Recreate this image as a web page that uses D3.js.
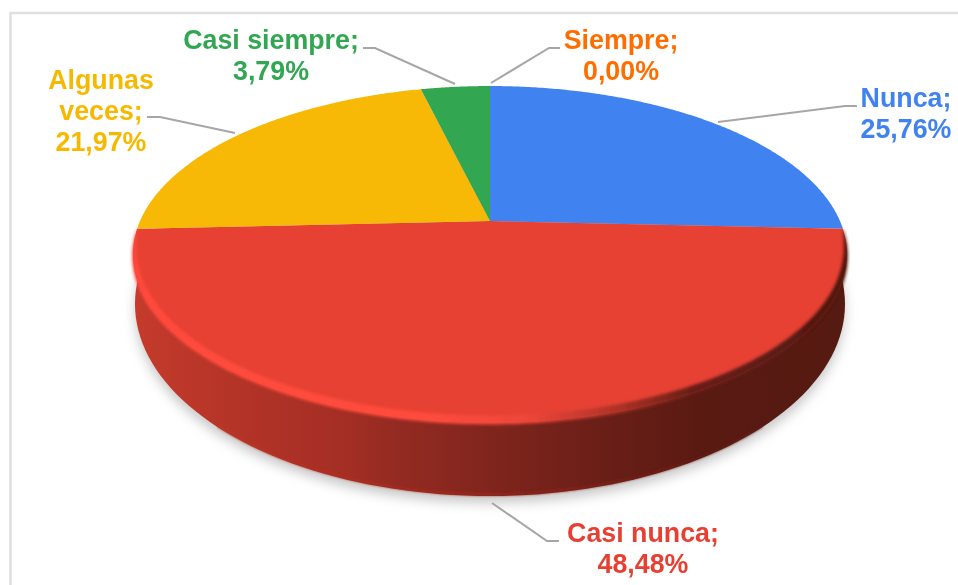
<!DOCTYPE html>
<html><head><meta charset="utf-8">
<style>html,body{margin:0;padding:0;background:#fff;overflow:hidden}svg{display:block}
text{font-family:"Liberation Sans",Arial,sans-serif;font-weight:700;font-size:26.8px;text-anchor:middle}</style>
<script src="https://cdn.jsdelivr.net/npm/d3@7"></script></head>
<body><script>
const categories = ["Nunca","Casi nunca","Algunas veces","Casi siempre","Siempre"];
const values = [25.76,48.48,21.97,3.79,0.00];
const colors = ["#4083f0","#e74133","#f7b906","#33a652","#ff6d01"];
const labelLines = [["Nunca;","25,76%"],["Casi nunca;","48,48%"],["Algunas","veces;","21,97%"],["Casi siempre;","3,79%"],["Siempre;","0,00%"]];
const labelCentres = [[906,98],[643,533],[101,80],[271,40],[621,40]];
const leaders = [
  [[857,106],[845,106],[718,122]],
  [[559,541],[547,541],[492,503]],
  [[147,117],[160,117],[235,133]],
  [[363,48],[375,48],[455,84]],
  [[560,48],[549,48],[491,83]]
];
const W=958,H=585, cx=490, cy=221, a=350, b=161.8, k=0.1988;
const lineH=30.8;

const svg=d3.select("body").append("svg").attr("width",W).attr("height",H);
const defs=svg.append("defs");
const blur=(id,s)=>defs.append("filter").attr("id",id).attr("filterUnits","userSpaceOnUse")
  .attr("x",0).attr("y",0).attr("width",W).attr("height",H)
  .append("feGaussianBlur").attr("stdDeviation",s);
blur("shadow",6); blur("rim",1.7); blur("soft",0.5); blur("edge",0.9);
const grad=(id,stops)=>{const g=defs.append("linearGradient").attr("id",id).attr("gradientUnits","userSpaceOnUse")
  .attr("x1",133).attr("x2",847).attr("y1",0).attr("y2",0);
  stops.forEach(([o,c])=>g.append("stop").attr("offset",o).attr("stop-color",c));};
grad("side",[[0,"#c53b2c"],[0.16,"#b23327"],[0.3,"#a42e24"],[0.36,"#952b22"],[0.5,"#80251d"],[0.65,"#6b1f17"],[0.8,"#591a12"],[1,"#551a11"]]);
grad("rimG",[[0,"#ff4a3c"],[0.4,"#ff4c3d"],[0.55,"#ee463a"],[0.66,"#b8352a"],[0.78,"#6a1f15"],[1,"#4f1710"]]);
grad("baseG",[[0,"#c53b2c"],[0.4,"#a82a20"],[0.6,"#8e2319"],[0.8,"#641c14"],[1,"#551a11"]]);

// frame
svg.append("path").attr("d",d3.line()([[10.5,H],[10.5,13],[W,13]])).attr("fill","none").attr("stroke","#e0e0e0").attr("stroke-width",2.6);

// perspective projection of the unit disc; theta runs clockwise from the top
const proj=(t,r=1)=>{const u=r*Math.sin(t),v=-r*Math.cos(t),d=1-k*v;return [cx+a*u/d,cy+b*v/d];};
const range=(t0,t1,n=180)=>d3.range(n+1).map(i=>t0+(t1-t0)*i/n);
const line=d3.line();

// lower disc used for side wall + shadow
const bcx=490,bcy=304,brx=355,bry=192;
const bottom=t=>[bcx+brx*Math.cos(t),bcy+bry*Math.sin(t)];
const ell=d3.range(0,361,2).map(d=>bottom(d*Math.PI/180));
svg.append("path").attr("d",line(ell)+"Z").attr("transform","translate(0,7)").attr("fill","#c9c9c9").attr("filter","url(#shadow)");

const pie=d3.pie().sort(null).value(d=>d).startAngle(0).endAngle(2*Math.PI)(values);
const red=pie[1];

// side wall
const wall=d3.range(-14,195,2).map(d=>bottom(d*Math.PI/180));
svg.append("path").attr("d",line(wall)+"Z").attr("fill","url(#side)");
// lighter lip at the foot of the wall
svg.append("path").attr("d",line(d3.range(40,141,2).map(d=>{const p=bottom(d*Math.PI/180);return [p[0],p[1]-1.5];})))
  .attr("fill","none").attr("stroke","url(#baseG)").attr("stroke-width",3).attr("stroke-opacity",0.7).attr("filter","url(#edge)");

// top surface
svg.append("g").selectAll("path").data(pie).join("path")
  .attr("d",d=>line([[cx,cy]].concat(range(d.startAngle,d.endAngle).map(t=>proj(t))))+"Z")
  .attr("fill",(d,i)=>colors[i]);

// bevel: a crescent along the front edge, thin at the ends of the slice
const span=range(red.startAngle,red.endAngle);
const thick=t=>Math.pow(Math.sin((t-red.startAngle)/(red.endAngle-red.startAngle)*Math.PI),0.6);
const outer=span.map(t=>proj(t,1+0.006*thick(t)));
const inner=span.slice().reverse().map(t=>proj(t,1-0.03*thick(t)));
svg.append("path").attr("d",line(outer.concat(inner))+"Z").attr("fill","url(#rimG)").attr("filter","url(#rim)");

// leader lines
svg.append("g").selectAll("path").data(leaders).join("path")
  .attr("d",d=>line(d)).attr("fill","none").attr("stroke","#a6a6a6").attr("stroke-width",2);

// labels
const lab=svg.append("g").attr("filter","url(#soft)").selectAll("text").data(labelLines).join("text")
  .attr("fill",(d,i)=>colors[i])
  .attr("transform",(d,i)=>`translate(${labelCentres[i][0]},${labelCentres[i][1]+9})`);
lab.selectAll("tspan").data(d=>d).join("tspan").attr("x",0).attr("y",(d,i)=>i*lineH).text(d=>d);
</script></body></html>
